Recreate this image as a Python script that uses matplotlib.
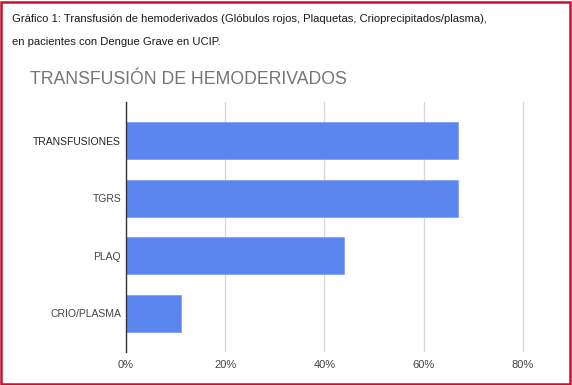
import matplotlib.pyplot as plt
from matplotlib.patches import Rectangle

categories = ['TRANSFUSIONES', 'TGRS', 'PLAQ', 'CRIO/PLASMA']
percent = [67, 67, 44, 11]
xticks = [0, 20, 40, 60, 80]
xtick_labels = ['0%', '20%', '40%', '60%', '80%']

caption_lines = ['Gráfico 1: Transfusión de hemoderivados (Glóbulos rojos, Plaquetas, '
                 'Crioprecipitados/plasma),',
                 'en pacientes con Dengue Grave en UCIP.']
chart_title = 'TRANSFUSIÓN DE HEMODERIVADOS'

fig = plt.figure(figsize=(5.72, 3.85), dpi=100)
fig.patch.set_facecolor('white')

# page caption above the chart (one text per line), sized so line 1 spans ~481px
for line, ypx in zip(caption_lines, [19, 42]):
    fig.text(12 / 572, 1 - ypx / 385, line, fontsize=8, family='Liberation Sans',
             color='#1a1a1a', va='center', ha='left')
fig.canvas.draw()
scale = 481 / fig.texts[0].get_window_extent().width
for t in fig.texts:
    t.set_fontsize(t.get_fontsize() * scale)

fig.text(30 / 572, 1 - 80 / 385, chart_title, fontsize=12.7, family='Liberation Sans',
         color='#757575', va='center', ha='left')

ax = fig.add_axes([126 / 572, 1 - 352 / 385, (81 * 4.96) / 572, (352 - 102) / 385])
ypos = list(range(len(categories)))
ax.barh(ypos, percent, height=0.645, color='#5b86ef', edgecolor='#7fa2f3', linewidth=0.6, zorder=3)
ax.set_ylim(len(categories) - 1 + 0.675, -0.675)
ax.set_xlim(0, 81)

ax.set_xticks(xticks)
ax.set_xticklabels(xtick_labels)
ax.set_yticks(ypos)
ax.set_yticklabels(categories)
ax.tick_params(axis='y', length=0, labelsize=7.5, colors='#444444', pad=3.5)
ax.tick_params(axis='x', length=0, labelsize=8, colors='#444444', pad=6)
for lab in ax.get_yticklabels() + ax.get_xticklabels():
    lab.set_family('Liberation Sans')
ax.get_yticklabels()[0].set_color('#222222')

ax.grid(axis='x', color='#d6d6d6', linewidth=0.9, zorder=0)
for side in ['top', 'right', 'bottom']:
    ax.spines[side].set_visible(False)
ax.spines['left'].set_color('#333333')
ax.spines['left'].set_linewidth(1.0)
ax.spines['left'].set_zorder(4)

# red frame around the whole picture
fig.patches.append(Rectangle((1 / 572, 1 / 385), 569 / 572, 382 / 385, transform=fig.transFigure,
                             fill=False, edgecolor='#c8102e', linewidth=1.8))

fig.savefig('out.png', dpi=100)
